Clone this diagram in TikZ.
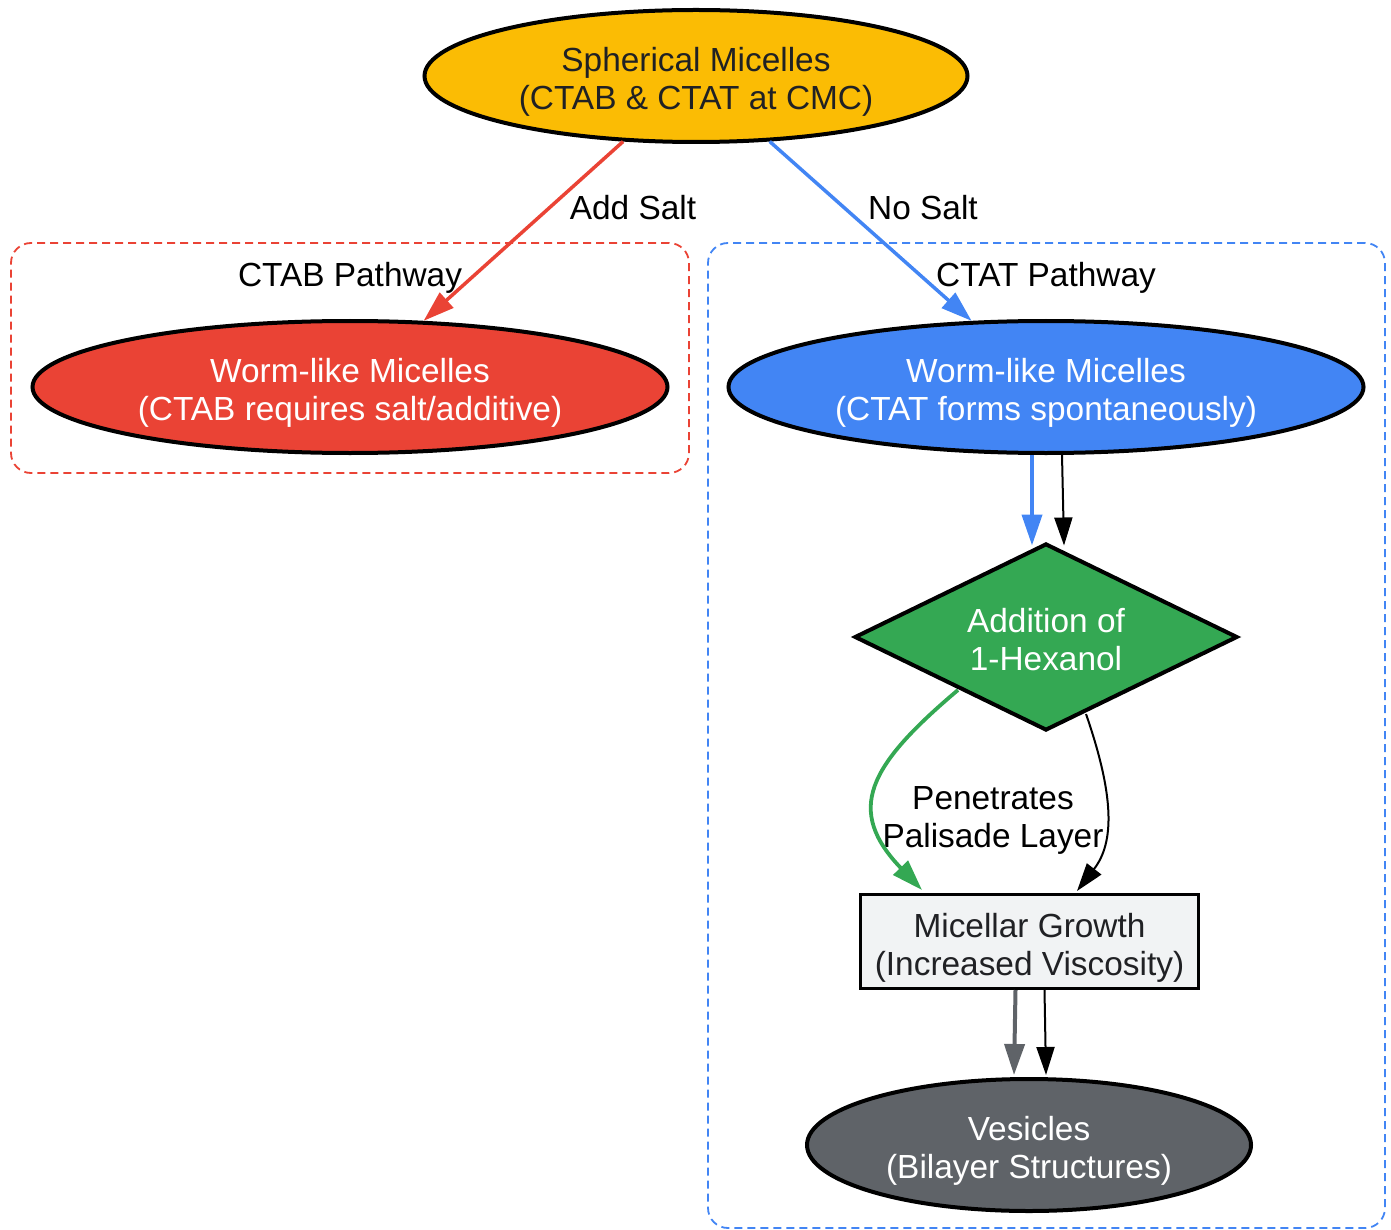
\documentclass[tikz,border=0pt]{standalone}
\usepackage{fontspec}
\setmainfont{Liberation Sans}
\usetikzlibrary{shapes.geometric,arrows.meta,calc}
\definecolor{gyellow}{HTML}{FBBC04}
\definecolor{gred}{HTML}{EA4335}
\definecolor{gblue}{HTML}{4285F4}
\definecolor{ggreen}{HTML}{34A853}
\definecolor{glight}{HTML}{F1F3F4}
\definecolor{ggray}{HTML}{5F6368}
\definecolor{gdark}{HTML}{202124}
\newcommand\twolines[2]{\begin{tabular}[t]{@{}c@{}}#1\\#2\end{tabular}}
\begin{document}
\begin{tikzpicture}[x=1pt,y=-1pt,
  every node/.style={font=\fontsize{33.4}{38}\selectfont},
  twol/.style={text height=20pt, text depth=29pt},
  ell/.style={ellipse, twol, draw=black, line width=4pt, inner sep=0pt, minimum height=132pt},
  cluster/.style={draw, line width=1.8pt, dash pattern=on 8pt off 5pt, rounded corners=20pt, inner sep=0pt},
  thinE/.style={draw=black, line width=2pt, -{Triangle[length=28pt,width=18pt]}},
  colE/.style={line width=3.5pt, -{Triangle[length=31pt,width=20pt]}},
]
\useasboundingbox (0,0) rectangle (1391,1230);
% clusters
\node[cluster, draw=gred, minimum width=678pt, minimum height=230pt] (ctabbox) at (350,358) {};
\node[cluster, draw=gblue, minimum width=677pt, minimum height=985pt] (ctatbox) at (1046.5,735.5) {};
\node (ctablbl) at (350,278) {CTAB Pathway};
\node (ctatlbl) at (1046,278) {CTAT Pathway};
% nodes
\node[ell, fill=gyellow, text=gdark, minimum width=543pt] (top) at (696,76) {\twolines{Spherical Micelles}{(CTAB \& CTAT at CMC)}};
\node[ell, fill=gred, text=white, minimum width=635pt] (red) at (350,387) {\twolines{Worm-like Micelles}{(CTAB requires salt/additive)}};
\node[ell, fill=gblue, text=white, minimum width=635pt] (blue) at (1046,387) {\twolines{Worm-like Micelles}{(CTAT forms spontaneously)}};
\node[diamond, twol, draw=black, line width=4pt, fill=ggreen, text=white, inner sep=0pt, aspect=2.03, minimum width=383pt, minimum height=187pt] (dia) at (1046,637) {\twolines{Addition of}{1-Hexanol}};
\node[rectangle, twol, draw=black, line width=3pt, fill=glight, text=gdark, inner sep=0pt, minimum width=338pt, minimum height=94pt] (rect) at (1029.5,941.5) {\twolines{Micellar Growth}{(Increased Viscosity)}};
\node[ell, fill=ggray, text=white, minimum width=444pt] (ves) at (1029,1145) {\twolines{Vesicles}{(Bilayer Structures)}};
% edge labels
\node (lbladd) at (633,208) {Add Salt};
\node (lblno) at (923,208) {No Salt};
\node[twol] (lblpen) at (993,813.5) {\twolines{Penetrates}{Palisade Layer}};
% edges
\draw[colE, draw=gred] (top) -- (red);
\draw[colE, draw=gblue] (top) -- (blue);
\draw[colE, draw=gblue, line width=4pt] ($(blue.south)+(-14,0)$) -- ($(dia.north)+(-14,4)$);
\draw[thinE] ($(blue.south)+(16,0)$) -- ($(dia.north)+(18,4)$);
\draw[colE, draw=ggreen, line width=3.8pt] ($(dia.center)+(-88,53)$) .. controls (868,766) and (845,810) .. ($(rect.north)+(-107.5,-3)$);
\draw[thinE] ($(dia.center)+(40,77)$) .. controls (1114,795) and (1115,842) .. ($(rect.north)+(47.5,-2)$);
\draw[colE, draw=ggray, line width=4pt] ($(rect.south)+(-14,0)$) -- ($(ves.north)+(-15,-2)$);
\draw[thinE] ($(rect.south)+(15,0)$) -- ($(ves.north)+(17,-2)$);
\end{tikzpicture}
\end{document}
